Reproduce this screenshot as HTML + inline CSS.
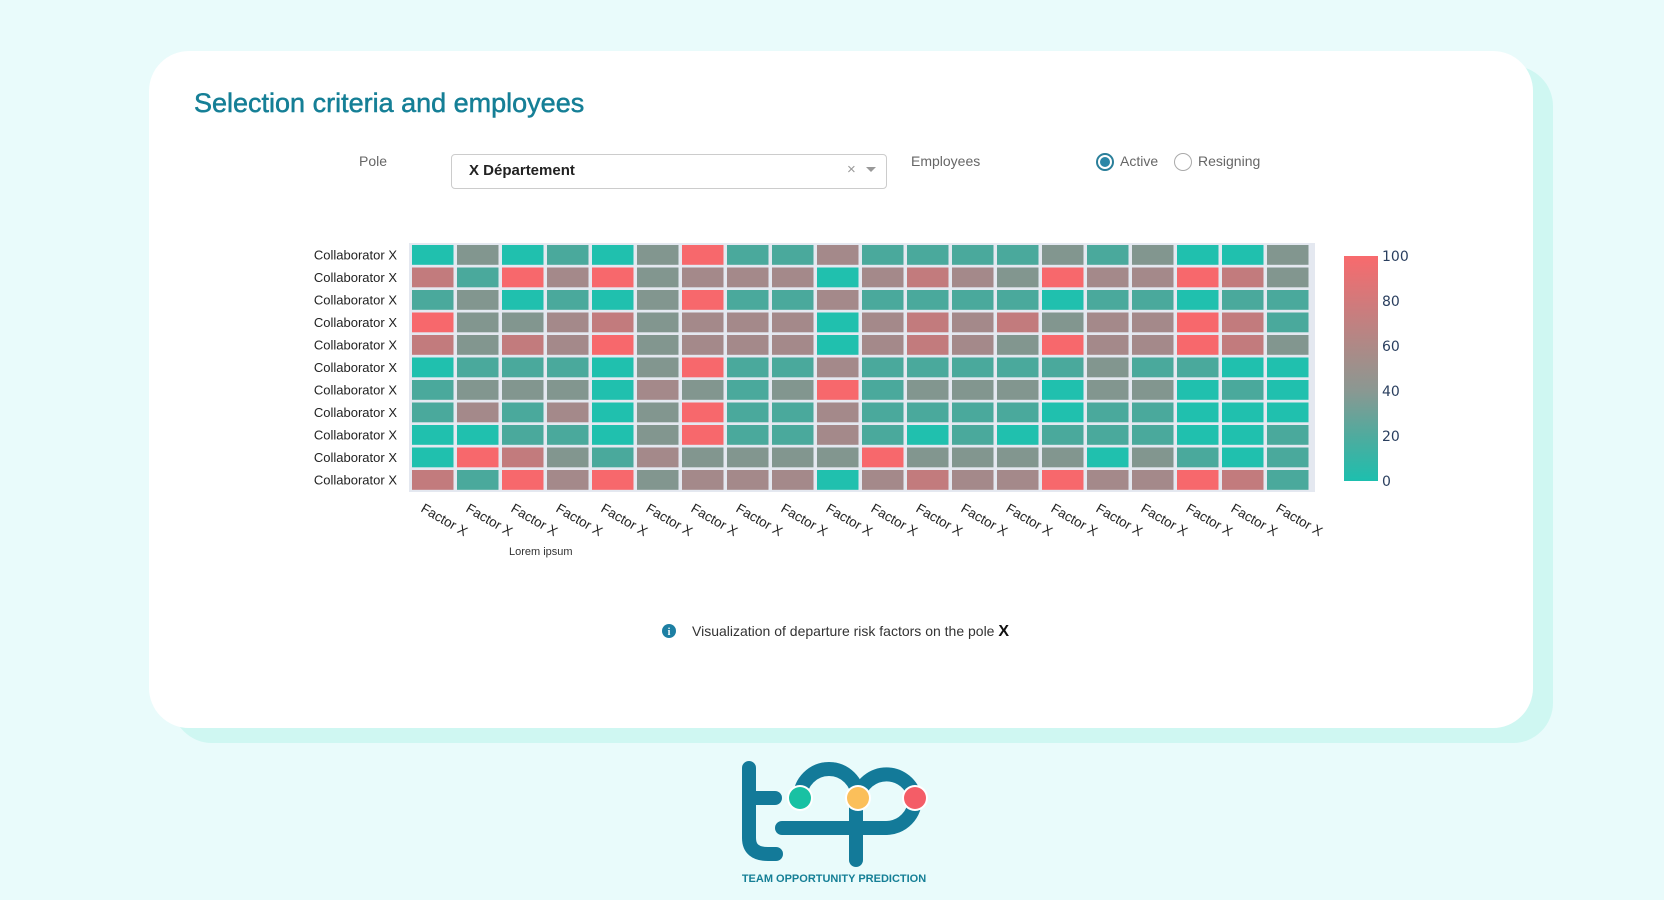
<!DOCTYPE html>
<html><head><meta charset="utf-8"><style>
*{margin:0;padding:0;box-sizing:border-box}
body{width:1664px;height:900px;background:#e9fbfb;position:relative;overflow:hidden;font-family:"Liberation Sans",sans-serif}
.abs{position:absolute}
.shadow{left:172px;top:66px;width:1381px;height:677px;background:#cff7f2;border-radius:40px}
.card{left:149px;top:51px;width:1384px;height:677px;background:#fff;border-radius:40px}
.title{left:194px;top:88px;font-size:27px;color:#157f96;white-space:nowrap;-webkit-text-stroke:0.5px #157f96}
.lbl{font-size:14px;color:#666;white-space:nowrap}
.sel{left:451px;top:154px;width:436px;height:35px;border:1px solid #ccc;border-radius:4px;background:#fff}
</style></head><body>
<div class="abs shadow"></div>
<div class="abs card"></div>
<div class="abs title">Selection criteria and employees</div>
<div class="abs lbl" style="left:359px;top:153px">Pole</div>
<div class="abs sel"></div>
<div class="abs" style="left:469px;top:162px;font-size:15px;font-weight:bold;color:#222">X Département</div>
<div class="abs" style="left:847px;top:161px;font-size:15px;color:#999">×</div>
<div class="abs" style="left:866px;top:167px;width:0;height:0;border-left:5px solid transparent;border-right:5px solid transparent;border-top:5px solid #999"></div>
<div class="abs lbl" style="left:911px;top:153px">Employees</div>
<div class="abs" style="left:1096px;top:153px;width:18px;height:18px;border-radius:50%;border:2px solid #2a7f9a;background:#fff"></div>
<div class="abs" style="left:1100px;top:157px;width:10px;height:10px;border-radius:50%;background:#2a86a6"></div>
<div class="abs lbl" style="left:1120px;top:153px">Active</div>
<div class="abs" style="left:1174px;top:153px;width:18px;height:18px;border-radius:50%;border:1.5px solid #aaa;background:#fff"></div>
<div class="abs lbl" style="left:1198px;top:153px">Resigning</div>

<svg class="abs" style="left:0;top:0" width="1664" height="900" id="hm">
<defs><linearGradient id="cb" x1="0" y1="1" x2="0" y2="0">
<stop offset="0" stop-color="#1dbfae"/><stop offset="0.2" stop-color="#4fab9e"/><stop offset="0.4" stop-color="#8a9892"/><stop offset="0.55" stop-color="#a58d89"/><stop offset="0.75" stop-color="#c97d7e"/><stop offset="1" stop-color="#f86a6d"/></linearGradient></defs>
<rect x="409" y="243" width="906" height="249" fill="#e4e8f0"/>
<g id="cells"></g>
<rect x="1344" y="256" width="34" height="225" fill="url(#cb)"/>
<g font-family="DejaVu Sans,sans-serif" font-size="14" fill="#2a3f5f">
<text x="1382" y="261">100</text><text x="1382" y="306">80</text><text x="1382" y="351">60</text><text x="1382" y="396">40</text><text x="1382" y="441">20</text><text x="1382" y="486">0</text>
</g>
<g id="ylab" font-family="Liberation Sans,sans-serif" font-size="13" fill="#222" text-anchor="end"></g>
<g id="xlab" font-family="Liberation Sans,sans-serif" font-size="13.5" fill="#222"></g>
<text x="509" y="555" font-family="Liberation Sans,sans-serif" font-size="11" fill="#333">Lorem ipsum</text>
<circle cx="669" cy="631" r="7" fill="#1d7fa3"/>
<text x="669" y="635" font-family="Liberation Serif,serif" font-size="10" font-weight="bold" fill="#fff" text-anchor="middle">i</text>
<text x="692" y="636" font-family="Liberation Sans,sans-serif" font-size="14" fill="#333">Visualization of departure risk factors on the pole <tspan font-weight="bold" font-size="16" fill="#111">X</tspan></text>
<g fill="none" stroke="#137a99" stroke-width="14" stroke-linecap="round">
<path d="M749 768 V838 Q749 854 768 854 H776"/>
<path d="M749 798 H775"/>
<path d="M782 828 H886"/>
<path d="M800 798 A29 29 0 0 1 858 798"/>
<path d="M858 798 A29 29 0 0 1 915 798 A29 29 0 0 1 886 828"/>
<path d="M856 800 V860"/>
</g>
<circle cx="800" cy="798" r="13" fill="#fff"/><circle cx="800" cy="798" r="11" fill="#19c1a3"/>
<circle cx="858" cy="798" r="13" fill="#fff"/><circle cx="858" cy="798" r="11" fill="#fbbf5a"/>
<circle cx="915" cy="798" r="13" fill="#fff"/><circle cx="915" cy="798" r="11" fill="#f45d67"/>
<text x="834" y="882" font-family="Liberation Sans,sans-serif" font-size="11" font-weight="bold" fill="#157f96" text-anchor="middle">TEAM OPPORTUNITY PREDICTION</text>
</svg>
<script>
var C={T:"#20c0ae",t:"#4aa99c",g:"#82968f",p:"#a4898a",P:"#c27b7d",R:"#f7686c"};
var rows=[
"TgTtTgRttpttttgtgTTg",
"PtRpRgpppTpPpgRppRPg",
"tgTtTgRttpttttTttTtt",
"RggpPgpppTpPpPgppRPt",
"PgPpRgpppTpPpgRppRPg",
"TtttTgRttptttttgttTTt".slice(0,20),
"tgggTpgtgRtgggTggTtT",
"tptpTgRttpttttTttTTT",
"TTttTgRttptTtTtttTTt",
"TRPgtpggggRggggTgtTtt".slice(0,20),
"PtRpRgpppTpPppRppRPt"];
var s="",y="",x="";
for(var r=0;r<11;r++){var yy=245+r*22.5;
 for(var c=0;c<20;c++){var ch=rows[r][c]||"t";s+='<rect x="'+(412+c*45)+'" y="'+yy+'" width="41.5" height="19.8" fill="'+C[ch]+'"/>';}
 y+='<text x="397" y="'+(yy+14.5)+'">Collaborator X</text>';}
for(var c=0;c<20;c++){var xx=420+c*45;x+='<text transform="translate('+xx+',511) rotate(30)">Factor X</text>';}
document.getElementById("cells").innerHTML=s;
document.getElementById("ylab").innerHTML=y;
document.getElementById("xlab").innerHTML=x;
</script>
</body></html>
